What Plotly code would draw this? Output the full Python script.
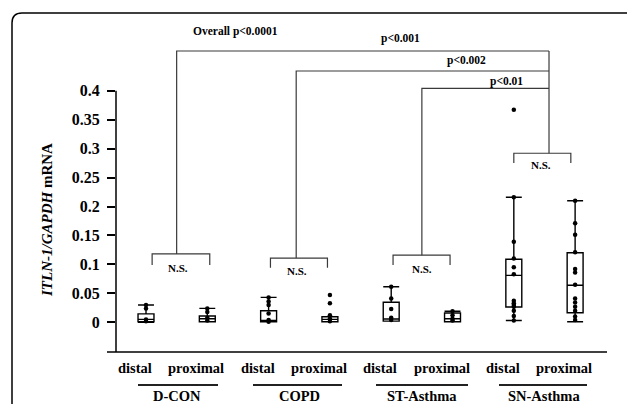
import plotly.graph_objects as go

# ---------------- data ----------------
groups = ["D-CON", "COPD", "ST-Asthma", "SN-Asthma"]
sites = ["distal", "proximal"]
positions = [1, 2, 3, 4, 5, 6, 7, 8]
y_tick_vals = [0, 0.05, 0.1, 0.15, 0.2, 0.25, 0.3, 0.35, 0.4]
y_tick_text = ["0", "0.05", "0.1", "0.15", "0.2", "0.25", "0.3", "0.35", "0.4"]

q1 = [0.001, 0.001, 0.001, 0.001, 0.002, 0.001, 0.0264, 0.0166]
median = [0.005, 0.006, 0.003, 0.005, 0.0057, 0.006, 0.081, 0.064]
q3 = [0.0145, 0.011, 0.020, 0.0097, 0.0345, 0.016, 0.109, 0.120]
lower = [0.0, 0.001, 0.001, 0.001, 0.002, 0.001, 0.003, 0.001]
upper = [0.030, 0.024, 0.043, 0.0097, 0.0615, 0.019, 0.216, 0.210]

pts_dcon_distal = [0.030, 0.024, 0.005, 0.002]
pts_dcon_prox = [0.024, 0.018, 0.008, 0.003]
pts_copd_distal = [0.043, 0.036, 0.030, 0.015, 0.004, 0.001]
pts_copd_prox = [0.047, 0.033, 0.012, 0.006, 0.002]
pts_st_distal = [0.0615, 0.041, 0.023, 0.008, 0.004]
pts_st_prox = [0.019, 0.012, 0.006, 0.003]
pts_sn_distal = [0.367, 0.216, 0.139, 0.110, 0.095, 0.083, 0.037, 0.033,
                 0.030, 0.027, 0.020, 0.011, 0.003]
pts_sn_prox = [0.210, 0.171, 0.151, 0.121, 0.092, 0.086, 0.065, 0.041,
               0.034, 0.027, 0.020, 0.010, 0.004]
all_pts = [pts_dcon_distal, pts_dcon_prox, pts_copd_distal, pts_copd_prox,
           pts_st_distal, pts_st_prox, pts_sn_distal, pts_sn_prox]

# significance annotations
ns_brackets = [  # (x_left, x_right, y_top, y_leg)
    (1.10, 2.04, 0.118, 0.099),
    (3.03, 3.96, 0.111, 0.094),
    (5.03, 5.96, 0.116, 0.099),
    (7.00, 7.93, 0.292, 0.275),
]
ns_text_pos = [(1.52, 0.094), (3.46, 0.089), (5.50, 0.092), (7.44, 0.272)]
stems = [1.50, 3.45, 5.50]
stem_tops = [0.4686, 0.434, 0.404]
sn_stem = 7.574
p_labels = ["p<0.001", "p<0.002", "p<0.01"]
p_label_pos = [(5.144, 0.491), (6.236, 0.453), (6.885, 0.416)]
overall_label = "Overall p<0.0001"
overall_pos = (2.466, 0.5016)

# ---------------- layout geometry ----------------
W, H = 627, 404
ML, MR, MT, MB = 116, 20, 20, 52
PW, PH = W - ML - MR, H - MT - MB
XR = [0.5106, 8.52]
YR = [-0.0513, 0.5221]
FONT = "'Liberation Serif', 'Times New Roman', Tinos, 'Nimbus Roman', 'DejaVu Serif', serif"
LINE_C = "#3a3a3a"


def px_x(px):
    return (px - ML) / PW


def px_y(py):
    return (H - MB - py) / PH


fig = go.Figure()

fig.add_trace(go.Box(
    x=positions, q1=q1, median=median, q3=q3,
    lowerfence=lower, upperfence=upper,
    boxpoints=False, width=0.26, whiskerwidth=1,
    fillcolor="white", line=dict(color="black", width=1.4),
    showlegend=False, hoverinfo="skip",
))

px_list, py_list = [], []
for pos, pts in zip(positions, all_pts):
    px_list += [pos] * len(pts)
    py_list += pts
fig.add_trace(go.Scatter(
    x=px_list, y=py_list, mode="markers",
    marker=dict(color="black", size=4.5),
    showlegend=False, hoverinfo="skip",
))

shapes = []
# axis lines
shapes.append(dict(type="line", xref="paper", yref="y", x0=0, x1=0,
                   y0=YR[0], y1=0.4, line=dict(color="black", width=1.5)))
shapes.append(dict(type="line", xref="paper", yref="paper", x0=px_x(107), x1=1,
                   y0=0, y1=0, line=dict(color="black", width=1.5)))

# N.S. brackets
for (xl, xr, yt, yl) in ns_brackets:
    shapes.append(dict(type="path", xref="x", yref="y",
                       path=f"M {xl},{yl} L {xl},{yt} L {xr},{yt} L {xr},{yl}",
                       line=dict(color=LINE_C, width=1.2)))
# stems and top brackets
for i, (sx, st) in enumerate(zip(stems, stem_tops)):
    yb = ns_brackets[i][2]
    shapes.append(dict(type="path", xref="x", yref="y",
                       path=f"M {sx},{yb} L {sx},{st} L {sn_stem},{st}",
                       line=dict(color=LINE_C, width=1.2)))
shapes.append(dict(type="line", xref="x", yref="y", x0=sn_stem, x1=sn_stem,
                   y0=ns_brackets[3][2], y1=stem_tops[0],
                   line=dict(color=LINE_C, width=1.2)))

# group underlines
underlines = [(138, 218), (253, 342), (376, 468), (499, 587)]
for (a, b) in underlines:
    shapes.append(dict(type="line", xref="paper", yref="paper",
                       x0=px_x(a), x1=px_x(b), y0=px_y(385), y1=px_y(385),
                       line=dict(color="#222", width=2)))

# outer rounded frame
r = 10
fx0, fy0 = 12, 13
path = (f"M {px_x(fx0)},{px_y(H + 20)} L {px_x(fx0)},{px_y(fy0 + r)} "
        f"Q {px_x(fx0)},{px_y(fy0)} {px_x(fx0 + r)},{px_y(fy0)} "
        f"L {px_x(W + 20)},{px_y(fy0)}")
shapes.append(dict(type="path", xref="paper", yref="paper", path=path,
                   line=dict(color="black", width=1.5)))

annotations = []
for (x, y) in ns_text_pos:
    annotations.append(dict(x=x, y=y, xref="x", yref="y", text="<b>N.S.</b>",
                            showarrow=False, yanchor="middle",
                            font=dict(family=FONT, size=11, color="black")))
for t, (x, y) in zip(p_labels, p_label_pos):
    annotations.append(dict(x=x, y=y, xref="x", yref="y", text=f"<b>{t}</b>",
                            showarrow=False, yanchor="middle",
                            font=dict(family=FONT, size=11.5, color="black")))
annotations.append(dict(x=overall_pos[0], y=overall_pos[1], xref="x", yref="y",
                        text=f"<b>{overall_label}</b>", showarrow=False, yanchor="middle",
                        font=dict(family=FONT, size=11.5, color="black")))

# x category labels
for i, pos in enumerate(positions):
    annotations.append(dict(x=pos, y=px_y(368), xref="x", yref="paper",
                            text=f"<b>{sites[i % 2]}</b>", showarrow=False, xshift=-11,
                            yanchor="middle",
                            font=dict(family=FONT, size=14.5, color="black")))
for g, gi in zip(groups, range(4)):
    annotations.append(dict(x=(positions[2 * gi] + positions[2 * gi + 1]) / 2, y=px_y(396),
                            xref="x", yref="paper", text=f"<b>{g}</b>", showarrow=False,
                            yanchor="middle",
                            font=dict(family=FONT, size=14.5, color="black")))

# y title
annotations.append(dict(x=px_x(47), y=px_y(220), xref="paper", yref="paper",
                        text="<b><i>ITLN-1/GAPDH</i> mRNA</b>", textangle=-90,
                        showarrow=False, xanchor="center", yanchor="middle",
                        font=dict(family=FONT, size=15, color="black")))

fig.update_layout(
    width=W, height=H,
    margin=dict(l=ML, r=MR, t=MT, b=MB),
    paper_bgcolor="white", plot_bgcolor="white",
    font=dict(family=FONT),
    shapes=shapes, annotations=annotations,
    xaxis=dict(range=XR, showgrid=False, zeroline=False, showline=False,
               showticklabels=False, ticks=""),
    yaxis=dict(range=YR, showgrid=False, zeroline=False, showline=False,
               tickvals=y_tick_vals, ticktext=y_tick_text, ticks="outside",
               ticklen=8, tickwidth=1.5, tickcolor="black", ticklabelstandoff=4,
               tickfont=dict(family=FONT, size=16, color="black", weight="bold")),
)

fig.write_html("out.html")
